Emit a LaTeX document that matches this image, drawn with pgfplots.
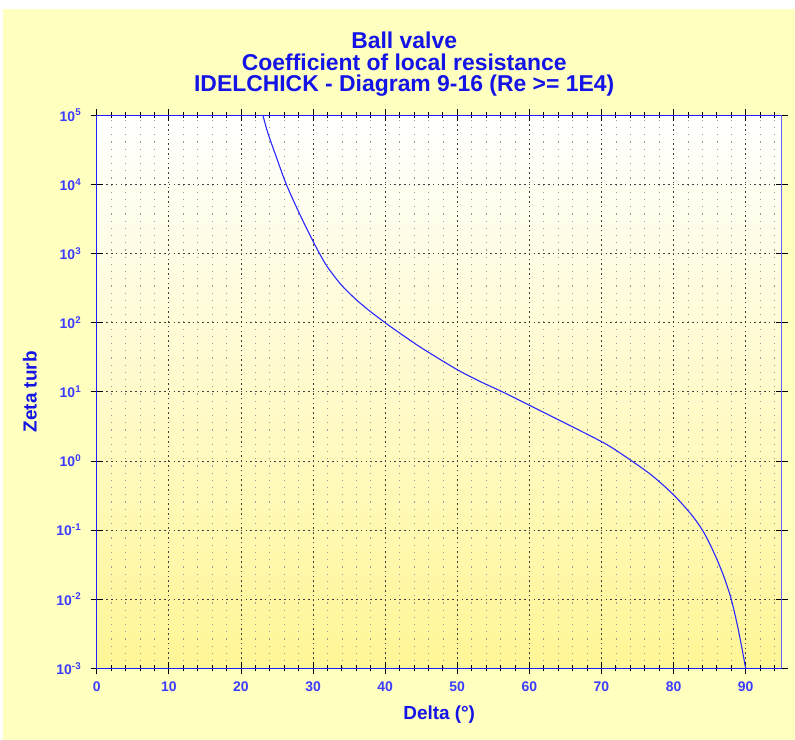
\documentclass[border=0pt]{standalone}
\usepackage{pgfplots}
\pgfplotsset{compat=1.18}
\usepackage{fontspec}
\setmainfont{Liberation Sans}
\definecolor{bgyel}{RGB}{255,255,192}
\definecolor{plotyel}{RGB}{255,246,150}
\definecolor{titleblue}{RGB}{20,20,230}
\definecolor{tickblue}{RGB}{60,60,255}
\definecolor{curveblue}{RGB}{40,40,255}
\definecolor{axblue}{RGB}{30,30,255}
\definecolor{lightaxblue}{RGB}{140,140,255}
\pgfplotstableread{
d z
23.05 100000
23.75 54954
25.0 23442
26.3 10000
28.2 3631
30.0 1514
30.9 1000
32.0 639.7
33.8 363.9
35.6 234.4
37.5 158.1
40.0 100
42.5 65.31
45.35 41.21
50.0 20.89
53.2 14.06
56.25 10
60.0 6.383
65.0 3.508
70.0 1.905
72.0 1.429
74.2 1.0
77.0 0.6166
80.0 0.3236
82.5 0.166
84.0 0.1
85.0 0.0638
86.0 0.0380
87.0 0.0209
88.0 0.01
89.0 0.00355
90.0 0.001
}\curvedata
\begin{document}
\begin{tikzpicture}[x=1bp,y=1bp]
\fill[white] (-96.7,-71.7) rectangle (698.3,668.3);
\fill[bgyel] (-93.7,-71.7) rectangle (698.3,659.3);
\begin{axis}[
  at={(0,0)}, anchor=south west,
  scale only axis, width=685bp, height=553bp,
  ymode=log, log basis y=10,
  xmin=0, xmax=95, ymin=1e-3, ymax=1e5,
  xtick={0,10,...,90},
  minor xtick={2,4,6,8,12,14,16,18,22,24,26,28,32,34,36,38,42,44,46,48,52,54,56,58,62,64,66,68,72,74,76,78,82,84,86,88,92,94},
  ytick={1e-3,1e-2,1e-1,1,10,100,1000,10000,100000},
  yticklabels={10\textsuperscript{-3},10\textsuperscript{-2},10\textsuperscript{-1},10\textsuperscript{0},10\textsuperscript{1},10\textsuperscript{2},10\textsuperscript{3},10\textsuperscript{4},10\textsuperscript{5}},
  /pgf/number format/assume math mode=true,
  grid=both,
  major grid style={dash pattern=on 1.6bp off 3.2bp, black!75, line width=0.7bp},
  minor grid style={dash pattern=on 1.2bp off 6bp, black!40, line width=0.6bp},
  axis line style={axblue, line width=1.5bp},
  tick align=center,
  major tick length=12bp, minor tick length=6bp,
  tick style={black, line width=0.8bp},
  tick label style={font=\bfseries\fontsize{14}{14}\selectfont, text=tickblue},
  xticklabel style={yshift=-4bp},
  yticklabel style={xshift=-6bp},
  axis background/.style={shade, top color=white, bottom color=plotyel},
  xlabel={Delta (°)},
  ylabel={Zeta turb},
  label style={font=\bfseries\fontsize{19}{19}\selectfont, text=titleblue},
  xlabel style={at={(axis description cs:0.5,0)}, anchor=center, yshift=-46.7bp},
  ylabel style={at={(axis description cs:-0.0974,0.5)}, anchor=center},
  clip=true,
]
\addplot[curveblue, line width=1.1bp, smooth] table[x=d, y=z] {\curvedata};
\draw[lightaxblue, line width=2bp] (rel axis cs:1,0) -- (rel axis cs:1,1);
\end{axis}
\node[text=titleblue, font=\bfseries\fontsize{23}{23}\selectfont] at (307.5,628.3) {Ball valve};
\node[text=titleblue, font=\bfseries\fontsize{23}{23}\selectfont] at (307.5,606.3) {Coefficient of local resistance};
\node[text=titleblue, font=\bfseries\fontsize{23}{23}\selectfont] at (307.5,582.3) {IDELCHICK - Diagram 9-16 (Re >= 1E4)};
\pgfresetboundingbox
\useasboundingbox (-96.7,-71.7) rectangle (698.3,668.3);
\end{tikzpicture}
\end{document}
